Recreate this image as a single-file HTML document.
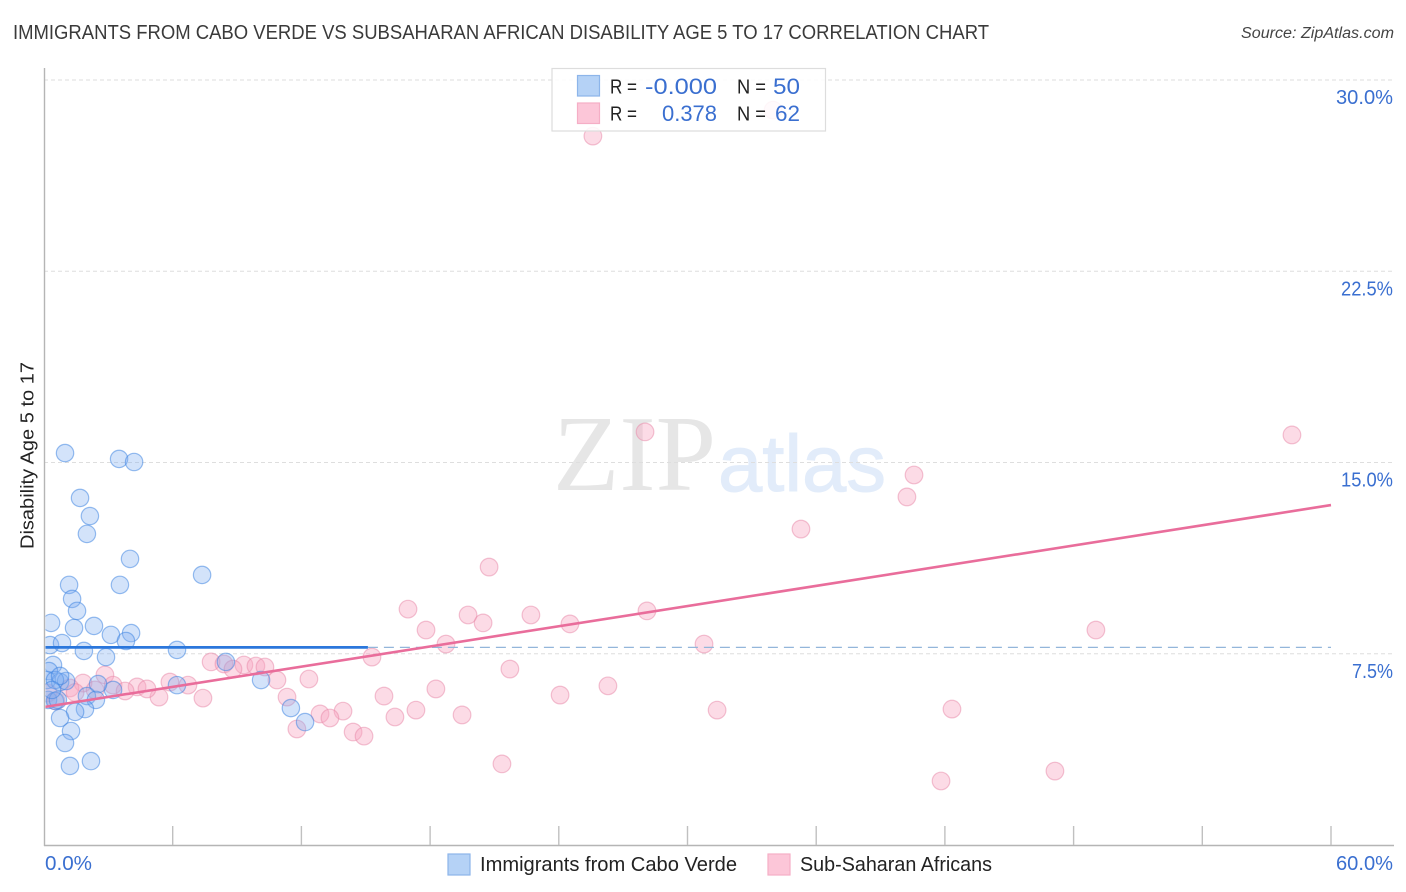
<!DOCTYPE html>
<html lang="en">
<head>
<meta charset="utf-8">
<title>Immigrants from Cabo Verde vs Subsaharan African Disability Age 5 to 17 Correlation Chart</title>
<style>
html,body{margin:0;padding:0;background:#fff;}
svg{display:block;font-family:"Liberation Sans",Arial,sans-serif;}
</style>
</head>
<body>
<svg id="chart" xmlns="http://www.w3.org/2000/svg" width="1406" height="892" viewBox="0 0 1406 892">
  <defs>
    <clipPath id="plot-clip"><rect x="45.5" y="60" width="1350" height="785"/></clipPath>
  </defs>
  <rect x="0" y="0" width="1406" height="892" fill="#ffffff"/>
  <text x="13" y="39" font-size="20" fill="#3a3a3a" textLength="976" lengthAdjust="spacingAndGlyphs">IMMIGRANTS FROM CABO VERDE VS SUBSAHARAN AFRICAN DISABILITY AGE 5 TO 17 CORRELATION CHART</text>
  <text x="1241" y="38" font-size="15.5" font-style="italic" fill="#444444" textLength="153" lengthAdjust="spacingAndGlyphs">Source: ZipAtlas.com</text>
  <text x="553" y="490" font-family="'Liberation Serif',serif" font-size="108" fill="#e6e6e6" textLength="163" lengthAdjust="spacingAndGlyphs">ZIP</text>
  <text x="718" y="491" font-size="80" fill="#e2ecfa" stroke="#e2ecfa" stroke-width="1" textLength="168" lengthAdjust="spacingAndGlyphs">atlas</text>
  <g id="grid"></g>
  <g id="points" clip-path="url(#plot-clip)"></g>
  <g id="lines" clip-path="url(#plot-clip)"></g>
  <g id="axes"></g>
  <text transform="translate(33.5,549) rotate(-90)" font-size="18.5" fill="#222222" textLength="187" lengthAdjust="spacingAndGlyphs">Disability Age 5 to 17</text>

  <g>
    <rect x="552" y="68.5" width="273.5" height="62.5" fill="#ffffff" fill-opacity="0.86" stroke="#dddddd" stroke-width="1.2"/>
    <rect x="577.5" y="75.5" width="22" height="20.5" fill="#b5d2f6" stroke="#8db5ea" stroke-width="1.2"/>
    <rect x="577.5" y="103" width="22" height="20.5" fill="#fcc6d8" stroke="#f5aec6" stroke-width="1.2"/>
    <text x="610" y="93.5" font-size="20" fill="#222222" textLength="27" lengthAdjust="spacingAndGlyphs">R =</text>
    <text x="645" y="94" font-size="22" fill="#3a6fd0" textLength="72" lengthAdjust="spacingAndGlyphs">-0.000</text>
    <text x="737" y="93.5" font-size="20" fill="#222222" textLength="29" lengthAdjust="spacingAndGlyphs">N =</text>
    <text x="773" y="94" font-size="22" fill="#3a6fd0" textLength="27" lengthAdjust="spacingAndGlyphs">50</text>
    <text x="610" y="120.5" font-size="20" fill="#222222" textLength="27" lengthAdjust="spacingAndGlyphs">R =</text>
    <text x="662" y="121" font-size="22" fill="#3a6fd0" textLength="55" lengthAdjust="spacingAndGlyphs">0.378</text>
    <text x="737" y="120.5" font-size="20" fill="#222222" textLength="29" lengthAdjust="spacingAndGlyphs">N =</text>
    <text x="775" y="121" font-size="22" fill="#3a6fd0" textLength="25" lengthAdjust="spacingAndGlyphs">62</text>
  </g>

  <g>
    <rect x="448" y="854" width="22" height="21" fill="#b5d2f6" stroke="#8db5ea" stroke-width="1.2"/>
    <text x="480" y="871" font-size="20" fill="#222222" textLength="257" lengthAdjust="spacingAndGlyphs">Immigrants from Cabo Verde</text>
    <rect x="768" y="854" width="22" height="21" fill="#fcc6d8" stroke="#f5aec6" stroke-width="1.2"/>
    <text x="800" y="871" font-size="20" fill="#222222" textLength="192" lengthAdjust="spacingAndGlyphs">Sub-Saharan Africans</text>
  </g>
</svg>
<script>
const yGridValues = [30, 22.5, 15, 7.5];
const yTickLabels = ['30.0%', '22.5%', '15.0%', '7.5%'];
const xTickValues = [6, 12, 18, 24, 30, 36, 42, 48, 54, 60];
const xEndLabels = ['0.0%', '60.0%'];

const caboVerdeX = [0.98,3.50,4.20,1.68,2.14,2.00,4.01,7.37,3.54,1.17,1.31,1.54,0.33,1.40,2.33,3.12,4.06,3.82,0.28,0.84,1.86,2.89,6.20,8.48,0.42,0.23,0.14,10.12,6.20,3.22,2.52,0.75,1.03,0.51,0.75,2.00,2.42,1.91,1.45,0.75,1.26,0.98,1.21,2.19,11.51,12.17,0.19,0.51,0.65,0.37];
const caboVerdeY = [15.37,15.14,15.02,13.61,12.90,12.20,11.22,10.59,10.20,10.20,9.65,9.18,8.71,8.51,8.59,8.24,8.31,8.00,7.84,7.92,7.61,7.37,7.65,7.18,7.06,6.82,6.47,6.47,6.27,6.08,6.31,6.39,6.43,6.47,6.63,5.84,5.69,5.33,5.22,4.98,4.47,4.00,3.10,3.29,5.37,4.82,5.69,5.65,5.69,6.08];

const subSaharanX = [25.59,33.99,28.02,58.18,40.56,40.23,35.29,20.75,16.97,19.77,22.70,28.11,24.52,20.47,17.81,18.74,49.04,30.77,15.29,21.72,26.29,18.27,24.06,15.85,31.38,42.33,17.34,19.49,16.36,13.94,12.87,13.33,11.79,14.41,14.92,21.35,41.82,47.13,7.79,8.39,9.32,9.88,10.30,8.81,10.86,12.35,11.33,7.41,5.36,2.84,1.82,3.22,4.34,4.80,5.87,6.71,3.78,2.38,1.21,0.19,0.56,1.45];
const subSaharanY = [27.80,28.82,16.20,16.08,14.51,13.65,12.39,10.90,9.25,9.02,9.02,9.18,8.67,8.71,8.43,7.88,8.43,7.88,7.37,6.90,6.24,6.12,5.88,5.84,5.29,5.33,5.29,5.10,5.02,5.25,5.14,4.98,4.55,4.43,4.27,3.18,2.51,2.90,7.18,7.10,7.06,7.02,6.98,6.90,6.47,6.51,5.80,5.76,5.80,6.67,6.35,6.27,6.20,6.12,6.39,6.27,6.04,6.08,6.16,5.96,5.65,5.98];

const caboVerdeTrendX = [0, 15.1];
const caboVerdeTrendY = [7.75, 7.75];
const caboVerdeMeanX = [15.1, 60];
const caboVerdeMeanY = [7.75, 7.75];
const subSaharanTrendX = [0, 60];
const subSaharanTrendY = [5.41, 13.33];

const NS = 'http://www.w3.org/2000/svg';
function xScale(v) { return 44 + v * (1331 - 44) / 60; }
function yScale(v) { return 845 - v * (845 - 80) / 30; }
function make(tag, attrs) {
  const el = document.createElementNS(NS, tag);
  Object.keys(attrs).forEach(function (k) { el.setAttribute(k, attrs[k]); });
  return el;
}
function labelWidth(label) {
  const w = { '0': 12, '1': 7, '2': 9.5, '3': 10, '5': 10, '6': 10, '7': 8, '.': 5, '%': 18 };
  return label.split('').reduce(function (s, c) { return s + w[c]; }, 0);
}

const gridG = document.getElementById('grid');
yGridValues.forEach(function (v) {
  const el = make('line', { x1: 44, x2: 1394, y1: yScale(v), y2: yScale(v), stroke: '#dedede', 'stroke-width': 1, 'stroke-dasharray': '4 3' });
  
  
  gridG.appendChild(el);
});

const pointsG = document.getElementById('points');
subSaharanX.forEach(function (v, i) {
  const el = make('circle', { cx: xScale(v), cy: yScale(subSaharanY[i]), r: 8.8, fill: 'rgba(247,165,193,0.4)', stroke: 'rgba(232,135,168,0.5)', 'stroke-width': 1.2 });
  
  
  pointsG.appendChild(el);
});
caboVerdeX.forEach(function (v, i) {
  const el = make('circle', { cx: xScale(v), cy: yScale(caboVerdeY[i]), r: 8.7, fill: 'rgba(125,172,240,0.34)', stroke: 'rgba(60,130,225,0.52)', 'stroke-width': 1.2 });
  
  
  pointsG.appendChild(el);
});

const linesG = document.getElementById('lines');
const meanLine = make('line', { x1: xScale(caboVerdeMeanX[0]), x2: xScale(caboVerdeMeanX[1]), y1: yScale(caboVerdeMeanY[0]), y2: yScale(caboVerdeMeanY[1]), stroke: '#93b6da', 'stroke-width': 1.2, 'stroke-dasharray': '10 6' });


linesG.appendChild(meanLine);
const blueLine = make('line', { x1: xScale(caboVerdeTrendX[0]), x2: xScale(caboVerdeTrendX[1]), y1: yScale(caboVerdeTrendY[0]), y2: yScale(caboVerdeTrendY[1]), stroke: '#2b77dc', 'stroke-width': 2.8 });


linesG.appendChild(blueLine);
const pinkLine = make('line', { x1: xScale(subSaharanTrendX[0]), x2: xScale(subSaharanTrendX[1]), y1: yScale(subSaharanTrendY[0]), y2: yScale(subSaharanTrendY[1]), stroke: '#e96d9b', 'stroke-width': 2.6 });


linesG.appendChild(pinkLine);

const axesG = document.getElementById('axes');
const yAxis = make('line', { x1: 44.5, x2: 44.5, y1: 68, y2: 846, stroke: '#b5b5b5', 'stroke-width': 1.4 });


axesG.appendChild(yAxis);
const xAxis = make('line', { x1: 44, x2: 1394, y1: 845.5, y2: 845.5, stroke: '#b5b5b5', 'stroke-width': 1.4 });


axesG.appendChild(xAxis);

xTickValues.forEach(function (v) {
  const el = make('line', { x1: xScale(v), x2: xScale(v), y1: 826, y2: 845, stroke: '#c0c0c0', 'stroke-width': 1.4 });
  
  
  axesG.appendChild(el);
});

yTickLabels.forEach(function (label, i) {
  const w = labelWidth(label);
  const el = make('text', { x: 1393 - w, y: yScale(yGridValues[i]) + 24, 'font-size': 20, fill: '#3a6fd0', textLength: w, lengthAdjust: 'spacingAndGlyphs' });
  
  
  el.textContent = label;
  axesG.appendChild(el);
});

const xLabelStart = make('text', { x: 45, y: 870, 'font-size': 20, fill: '#3a6fd0', textLength: labelWidth(xEndLabels[0]), lengthAdjust: 'spacingAndGlyphs' });


xLabelStart.textContent = xEndLabels[0];
axesG.appendChild(xLabelStart);
const xLabelEnd = make('text', { x: 1393 - labelWidth(xEndLabels[1]), y: 870, 'font-size': 20, fill: '#3a6fd0', textLength: labelWidth(xEndLabels[1]), lengthAdjust: 'spacingAndGlyphs' });


xLabelEnd.textContent = xEndLabels[1];
axesG.appendChild(xLabelEnd);
</script>
</body>
</html>
